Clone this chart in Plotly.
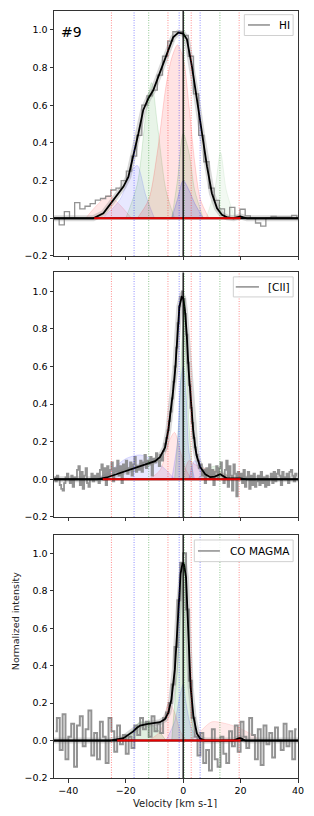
import plotly.graph_objects as go

FONT = "DejaVu Sans"

# ---------------- data ----------------
PANELS = ["HI", "[CII]", "CO MAGMA"]
TITLE_TEXT = "#9"

VLINES_RED = [-25.0, -5.3, 2.8, 19.5]
VLINES_BLUE = [-17.1, -1.4, 5.9]
VLINES_GREEN = [-12.0, 0.4, 12.8]
VLINE_CENTER = 0.0

# HI spectrum (channel 1.8 km/s, first channel centre -44.1)
HI_V0, HI_DV = -44.1, 1.8
HI_SPEC = [0.0, -0.035, 0.035, 0.0, 0.083, 0.05, 0.064, 0.078, 0.096, 0.105,
           0.117, 0.15, 0.16, 0.2, 0.25, 0.33, 0.44, 0.6, 0.65, 0.68,
           0.76, 0.86, 0.94, 0.99, 0.99, 0.97, 0.86, 0.66, 0.44, 0.3,
           0.16, 0.095, 0.05, 0.007, 0.058, 0.01, 0.048, 0.013, 0.0, -0.025,
           -0.042, 0.0, 0.01, 0.006, 0.006, 0.006, 0.015, 0.0]
HI_FIT_V = [-45, -31.3, -27.8, -24.3, -20.8, -19.1, -17.4, -15.6, -13.9, -12.1,
            -10.4, -8.7, -6.9, -5.2, -3.5, -1.7, 0, 1.3, 3.0, 4.8,
            6.5, 8.3, 10.0, 11.8, 13.5, 15.3, 17.6, 19.9, 22.2, 40]
HI_FIT_Y = [0, 0, 0.027, 0.097, 0.168, 0.22, 0.327, 0.45, 0.575, 0.637,
            0.68, 0.75, 0.83, 0.90, 0.96, 0.985, 0.98, 0.95, 0.81, 0.63,
            0.45, 0.275, 0.133, 0.053, 0.018, 0.005, 0.0, 0.01, 0, 0]

# [CII] spectrum (channel 0.5 km/s, first channel centre -44.75)
CII_V0, CII_DV = -44.75, 0.5
CII_SPEC = [0.01, -0.01, 0.02, 0.0, -0.03, -0.05, -0.06, -0.02, 0.01, 0.03,
            0.0, -0.02, 0.02, -0.04, 0.01, 0.0, 0.05, 0.07, -0.03, 0.04,
            -0.05, 0.02, 0.06, -0.02, -0.04, 0.0, 0.03, -0.01, 0.02, 0.0,
            0.03, -0.02, 0.05, 0.08, 0.0, 0.06, -0.03, 0.07, 0.02, 0.05,
            0.09, -0.01, 0.06, 0.04, 0.1, 0.02, 0.07, -0.02, 0.08, 0.05,
            0.1, 0.03, 0.06, 0.09, 0.02, 0.08, 0.12, 0.04, 0.07, 0.05,
            0.1, 0.04, 0.09, 0.13, 0.06, 0.1, 0.08, 0.12, 0.02, 0.11,
            0.09, 0.14, 0.1, 0.07, 0.13, 0.1, 0.15, 0.19, 0.22, 0.26,
            0.31, 0.36, 0.43, 0.52, 0.6, 0.7, 0.83, 0.92, 0.97, 1.0,
            0.96, 0.88, 0.77, 0.62, 0.5, 0.38, 0.3, 0.22, 0.17, 0.13,
            0.1, 0.06, 0.08, 0.02, 0.05, -0.02, 0.06, 0.03, 0.08, 0.01,
            0.05, -0.03, 0.04, 0.07, 0.0, 0.06, 0.09, 0.02, -0.02, 0.05,
            0.1, -0.04, 0.07, 0.02, -0.06, 0.08, 0.03, -0.09, 0.04, 0.01,
            0.03, -0.02, 0.05, -0.04, 0.01, 0.04, -0.05, 0.02, -0.03, 0.03,
            -0.04, -0.01, 0.02, -0.03, 0.04, -0.02, 0.01, -0.04, 0.02, -0.03,
            0.0, 0.03, -0.02, 0.04, -0.01, 0.03, 0.05, 0.02, -0.03, 0.04,
            0.01, 0.0, 0.03, -0.02, 0.04, 0.05, 0.02, -0.01, 0.03, 0.02]
CII_FIT_V = [-45, -30, -26.6, -20.8, -16.2, -12.7, -9.8, -8.1, -6.3, -5.2,
             -4.3, -3.5, -2.8, -2.0, -1.3, -0.5, 0.0, 0.6, 1.2, 1.9,
             2.7, 3.5, 4.3, 4.8, 5.9, 7.7, 9.4, 11.0, 12.9, 15.2,
             19.9, 22.2, 40]
CII_FIT_Y = [0, 0, 0.01, 0.04, 0.066, 0.083, 0.097, 0.118, 0.17, 0.26,
             0.36, 0.47, 0.58, 0.78, 0.92, 0.97, 0.965, 0.9, 0.78, 0.58,
             0.40, 0.26, 0.16, 0.12, 0.066, 0.027, 0.012, 0.015, 0.027, 0.006,
             0.005, 0, 0]

# CO MAGMA spectrum (channel 1.0 km/s, first channel centre -44.5)
CO_V0, CO_DV = -44.5, 1.0
CO_SPEC = [0.05, 0.12, -0.05, 0.14, -0.1, 0.02, 0.09, -0.14, 0.08, 0.13,
           -0.03, 0.06, 0.16, -0.08, 0.04, -0.1, 0.1, 0.02, -0.12, 0.12,
           0.05, -0.06, 0.08, -0.02, 0.03,
           -0.07, 0.02, -0.04, 0.08, 0.03, 0.12, 0.06, 0.1, 0.02, 0.13,
           0.05, 0.09, 0.04, 0.12, 0.15,
           0.2, 0.3, 0.5, 0.75, 0.95, 1.0, 0.7, 0.32, 0.12, 0.02,
           -0.08, 0.04, -0.12, -0.05, -0.16, 0.06, -0.1, -0.14, 0.02, -0.07,
           -0.12, 0.05, -0.03, 0.08, -0.06, 0.1, 0.02, -0.04, 0.12, 0.03,
           -0.1, 0.06, -0.13, 0.08, -0.02, 0.04, -0.09, 0.07, 0.0, -0.05,
           0.09, -0.03, 0.05, -0.1, 0.06]
CO_FIT_V = [-45, -25.5, -20.8, -18.5, -17.4, -16.2, -15.0, -12.7, -10.5, -8.1,
            -6.4, -5.2, -4.1, -2.9, -1.7, -0.9, -0.2, 0.3, 1.0, 1.7,
            2.6, 3.6, 4.8, 5.9, 7.6, 17.5, 18.7, 19.6, 20.4, 21.6, 40]
CO_FIT_Y = [0, 0, 0.013, 0.036, 0.049, 0.067, 0.08, 0.088, 0.094, 0.098,
            0.113, 0.148, 0.22, 0.38, 0.68, 0.89, 0.95, 0.94, 0.87, 0.59,
            0.285, 0.126, 0.037, 0.011, 0.0, 0.0, 0.007, 0.014, 0.01, 0.0, 0]

# Gaussian-component clouds: (colour, velocities, envelope heights, opacity)
HI_CLOUDS = [
    ("red", [-34, -30, -26, -22, -18], [0, 0.07, 0.12, 0.07, 0], 0.09),
    ("blue", [-28, -22, -18, -16, -13, -10], [0, 0.1, 0.25, 0.28, 0.12, 0], 0.09),
    ("green", [-20, -16, -13, -11, -9, -6, -3], [0, 0.18, 0.55, 0.72, 0.5, 0.15, 0], 0.09),
    ("red", [-16, -12, -9, -6, -4, -2, 0, 2, 4, 6, 9], [0, 0.1, 0.35, 0.7, 0.85, 0.92, 0.85, 0.6, 0.3, 0.1, 0], 0.11),
    ("green", [-4, -2, 0, 2, 4, 7], [0, 0.2, 0.45, 0.35, 0.15, 0], 0.09),
    ("green", [8, 11, 13, 15, 18], [0, 0.15, 0.35, 0.15, 0], 0.05),
    ("blue", [-4, -2, 0, 2, 4, 7], [0, 0.1, 0.2, 0.15, 0.08, 0], 0.12),
]
CII_CLOUDS = [
    ("blue", [-30, -25, -20, -15, -10, -6, -3], [0, 0.05, 0.11, 0.13, 0.1, 0.05, 0], 0.09),
    ("red", [-12, -8, -5, -3, -1, 1, 3], [0, 0.05, 0.2, 0.25, 0.15, 0.05, 0], 0.09),
    ("red", [0, 2, 4, 7, 10, 14, 18], [0, 0.1, 0.08, 0.06, 0.05, 0.03, 0], 0.09),
    ("green", [5, 8, 11, 14, 17], [0, 0.05, 0.07, 0.04, 0], 0.09),
    ("blue", [-4, -2, -1, 0, 1, 2, 4], [0, 0.2, 0.5, 0.6, 0.45, 0.15, 0], 0.1),
    ("green", [-3, -1.5, -0.5, 0.3, 1, 2, 3.5], [0, 0.3, 0.7, 0.9, 0.7, 0.3, 0], 0.1),
    ("blue", [2, 4, 6, 8], [0, 0.1, 0.05, 0], 0.09),
]
CO_CLOUDS = [
    ("red", [2, 6, 10, 15, 19, 23, 27], [0, 0.05, 0.1, 0.09, 0.07, 0.04, 0], 0.08),
    ("green", [-22, -18, -15, -12, -9, -6], [0, 0.05, 0.1, 0.09, 0.06, 0], 0.12),
    ("red", [-12, -8, -5, -3, -1, 1], [0, 0.05, 0.2, 0.15, 0.05, 0], 0.09),
    ("blue", [-6, -3, -1, 0, 1, 3, 6], [0, 0.1, 0.25, 0.3, 0.2, 0.06, 0], 0.09),
    ("green", [-4, -2, -1, 0, 0.5, 1, 2, 3.5], [0, 0.4, 0.75, 0.93, 0.95, 0.85, 0.5, 0], 0.12),
]
RED_BASE = [(-31, 20), (-28, 20), (-23, 20)]

# --------------- styling ---------------
RGB = {"red": "255,0,0", "green": "0,128,0", "blue": "0,0,255"}
XR = [-45, 40]
YR = [-0.2, 1.1]
# figure is placed at an 8px page offset; plot area spans x 54..298, y 11..778 of the window
FIG_W, FIG_H = 298, 800
M_L, M_R, M_T, M_B = 46, 8, 3, 30
DOMAINS = [[0.6806, 1.0], [0.3403, 0.6591], [0.0, 0.3173]]

specs = [(HI_V0, HI_DV, HI_SPEC, HI_FIT_V, HI_FIT_Y, HI_CLOUDS, 1.3),
         (CII_V0, CII_DV, CII_SPEC, CII_FIT_V, CII_FIT_Y, CII_CLOUDS, 1.8),
         (CO_V0, CO_DV, CO_SPEC, CO_FIT_V, CO_FIT_Y, CO_CLOUDS, 2.0)]

fig = go.Figure()
shapes = []
annotations = []

for i, (v0, dv, spec, fv, fy, clouds, slw) in enumerate(specs):
    n = "" if i == 0 else str(i + 1)
    xa, ya = "x" + n, "y" + n
    # component clouds
    for col, cv, cy, op in clouds:
        fig.add_trace(go.Scatter(
            x=cv, y=cy, xaxis=xa, yaxis=ya, mode="lines",
            line=dict(color=f"rgba({RGB[col]},{op * 2:.2f})", width=0.7, shape="spline", smoothing=0.8),
            fill="tozeroy", fillcolor=f"rgba({RGB[col]},{op:.2f})",
            showlegend=False, hoverinfo="skip"))
    # observed spectrum
    fig.add_trace(go.Scatter(
        y=spec, x0=v0, dx=dv, xaxis=xa, yaxis=ya, mode="lines",
        line=dict(color="rgba(128,128,128,0.85)", width=slw, shape="hvh"),
        showlegend=False, hoverinfo="skip"))
    # baselines
    shapes.append(dict(type="line", xref=xa, yref=ya, x0=XR[0], x1=XR[1], y0=0, y1=0,
                       line=dict(color="black", width=2), layer="above"))
    shapes.append(dict(type="line", xref=xa, yref=ya, x0=RED_BASE[i][0], x1=RED_BASE[i][1], y0=0, y1=0,
                       line=dict(color="rgba(255,0,0,0.9)", width=2), layer="above"))
    # fit realisations band + best fit
    fig.add_trace(go.Scatter(
        x=fv, y=fy, xaxis=xa, yaxis=ya, mode="lines",
        line=dict(color="rgba(128,128,128,0.3)", width=6),
        showlegend=False, hoverinfo="skip"))
    fig.add_trace(go.Scatter(
        x=fv, y=fy, xaxis=xa, yaxis=ya, mode="lines",
        line=dict(color="black", width=1.8),
        showlegend=False, hoverinfo="skip"))
    # vertical lines
    for vals, col in ((VLINES_RED, "255,0,0"), (VLINES_BLUE, "0,0,255"), (VLINES_GREEN, "0,128,0")):
        for v in vals:
            shapes.append(dict(type="line", xref=xa, yref=ya + " domain", x0=v, x1=v, y0=0, y1=1,
                               line=dict(color=f"rgba({col},0.45)", width=1, dash="1px,1.5px"),
                               layer="above"))
    shapes.append(dict(type="line", xref=xa, yref=ya + " domain", x0=VLINE_CENTER, x1=VLINE_CENTER,
                       y0=0, y1=1, line=dict(color="black", width=1.3), layer="above"))

    axis_common = dict(showline=True, mirror=True, linecolor="#333", linewidth=1,
                       ticks="outside", ticklen=3.5, tickcolor="#333", tickwidth=1,
                       showgrid=False, zeroline=False, automargin=False,
                       tickfont=dict(family=FONT, size=9.5, color="black"))
    fig.update_layout(**{
        ("xaxis" + n): dict(domain=[0, 1], range=XR, anchor=ya, tickvals=[-40, -20, 0, 20, 40],
                            showticklabels=(i == 2), **axis_common),
        ("yaxis" + n): dict(domain=DOMAINS[i], range=YR, anchor=xa,
                            tickvals=[-0.2, 0.0, 0.2, 0.4, 0.6, 0.8, 1.0], tickformat=".1f",
                            **axis_common),
    })

# legend boxes (drawn manually, one per panel)
LEG = [  # box x0,x1,y0,y1 (domain), line x0,x1,y, text x
    (0.78, 0.98, 0.90, 0.985, 0.795, 0.885, 0.943, 0.915),
    (0.735, 0.98, 0.90, 0.982, 0.745, 0.84, 0.941, 0.87),
    (0.575, 0.98, 0.889, 0.978, 0.59, 0.68, 0.933, 0.715),
]
for i, (bx0, bx1, by0, by1, lx0, lx1, ly, tx) in enumerate(LEG):
    n = "" if i == 0 else str(i + 1)
    xd, yd = "x" + n + " domain", "y" + n + " domain"
    shapes.append(dict(type="rect", xref=xd, yref=yd, x0=bx0, x1=bx1, y0=by0, y1=by1,
                       line=dict(color="#d0d0d0", width=1), fillcolor="rgba(255,255,255,0.85)",
                       layer="above"))
    shapes.append(dict(type="line", xref=xd, yref=yd, x0=lx0, x1=lx1, y0=ly, y1=ly,
                       line=dict(color="rgba(128,128,128,0.9)", width=1.5), layer="above"))
    annotations.append(dict(text=PANELS[i], xref=xd, yref=yd, x=tx, y=ly, xanchor="left",
                            yanchor="middle", showarrow=False,
                            font=dict(family=FONT, size=10.5, color="black")))

annotations.append(dict(text=TITLE_TEXT, xref="x domain", yref="y domain", x=0.02, y=0.955,
                        xanchor="left", yanchor="top", showarrow=False,
                        font=dict(family=FONT, size=14, color="black")))
annotations.append(dict(text="Velocity [km s-1]", xref="paper", yref="paper", x=0.496, y=-0.033,
                        xanchor="center", yanchor="middle", showarrow=False,
                        font=dict(family=FONT, size=10, color="#222")))
annotations.append(dict(text="Normalized intensity", xref="paper", yref="paper", x=-0.158, y=0.205,
                        xanchor="center", yanchor="middle", showarrow=False, textangle=-90,
                        font=dict(family=FONT, size=9.5, color="#222")))

fig.update_layout(width=FIG_W, height=FIG_H, margin=dict(l=M_L, r=M_R, t=M_T, b=M_B),
                  paper_bgcolor="white", plot_bgcolor="white",
                  shapes=shapes, annotations=annotations, showlegend=False)

fig.write_html("out.html")
